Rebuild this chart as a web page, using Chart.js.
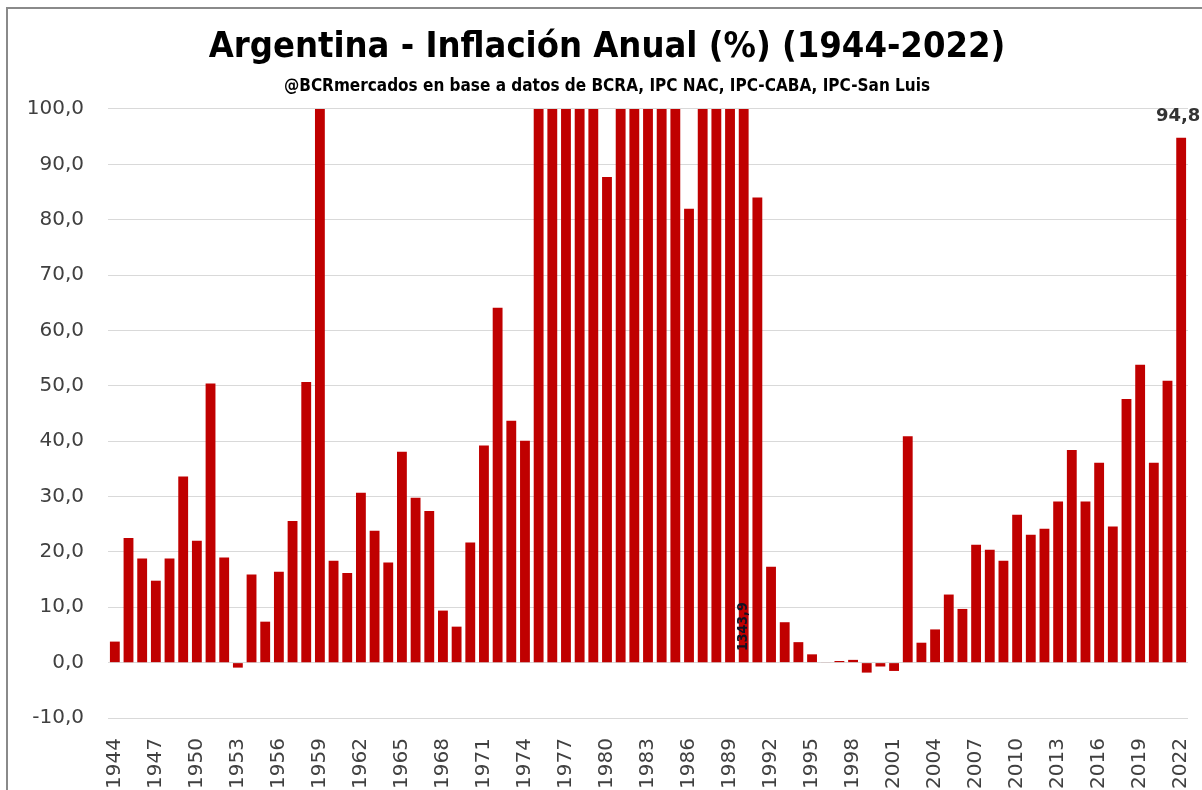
<!DOCTYPE html>
<html>
<head>
<meta charset="utf-8">
<script src="https://cdn.jsdelivr.net/npm/chart.js@4.4.0/dist/chart.umd.min.js"></script>
<style>
  html, body { margin: 0; padding: 0; background: #fff; overflow: hidden; }
  #wrap { position: relative; width: 1202px; height: 790px; overflow: hidden; }
  #frame {
    position: absolute; left: 6px; top: 7px; right: -10px; bottom: -10px;
    border-left: 2px solid #8a8a8a; border-top: 2px solid #8a8a8a;
    pointer-events: none;
  }
</style>
</head>
<body>
<div id="wrap">
  <canvas id="myChart" width="1202" height="790"></canvas>
  <div id="frame"></div>
</div>
<script>
// categories
const years = [
  "1944","1945","1946","1947","1948","1949","1950","1951","1952","1953",
  "1954","1955","1956","1957","1958","1959","1960","1961","1962","1963",
  "1964","1965","1966","1967","1968","1969","1970","1971","1972","1973",
  "1974","1975","1976","1977","1978","1979","1980","1981","1982","1983",
  "1984","1985","1986","1987","1988","1989","1990","1991","1992","1993",
  "1994","1995","1996","1997","1998","1999","2000","2001","2002","2003",
  "2004","2005","2006","2007","2008","2009","2010","2011","2012","2013",
  "2014","2015","2016","2017","2018","2019","2020","2021","2022"
];

// annual inflation (%), values above 100 are cut by the axis
const inflation = [
  3.8, 22.5, 18.8, 14.8, 18.8, 33.6, 22.0, 50.4, 19.0, -0.9,
  15.9, 7.4, 16.4, 25.6, 50.7, 113.7, 18.4, 16.2, 30.7, 23.8,
  18.1, 38.1, 29.8, 27.4, 9.4, 6.5, 21.7, 39.2, 64.1, 43.7,
  40.1, 335.0, 347.5, 160.4, 169.8, 139.7, 87.7, 131.3, 209.7, 433.7,
  688.0, 385.4, 82.0, 174.8, 387.7, 4923.6, 1343.9, 84.0, 17.3, 7.3,
  3.7, 1.5, 0.1, 0.3, 0.5, -1.8, -0.7, -1.5, 40.9, 3.6,
  6.0, 12.3, 9.7, 21.3, 20.4, 18.4, 26.7, 23.1, 24.2, 29.1,
  38.4, 29.1, 36.1, 24.6, 47.6, 53.8, 36.1, 50.9, 94.8
];

// y axis ticks
const yTicks = [-10, 0, 10, 20, 30, 40, 50, 60, 70, 80, 90, 100];

// bars that carry a value label
const topLabelYears = ["2022"];
const baseLabelYears = ["1990"];

const fmt = (v) => v.toFixed(1).replace(".", ",");

// draws the two value labels
const valueLabels = {
  id: "valueLabels",
  afterDatasetsDraw(chart) {
    const ctx = chart.ctx;
    const meta = chart.getDatasetMeta(0);
    const y = chart.scales.y;
    ctx.save();
    topLabelYears.forEach((yr) => {
      const i = years.indexOf(yr);
      const bar = meta.data[i];
      ctx.font = "bold 18px 'DejaVu Sans'";
      ctx.fillStyle = "#333333";
      ctx.textAlign = "center";
      ctx.textBaseline = "bottom";
      ctx.fillText(fmt(inflation[i]), bar.x - 3, bar.y - 12);
    });
    baseLabelYears.forEach((yr) => {
      const i = years.indexOf(yr);
      const bar = meta.data[i];
      ctx.translate(bar.x, y.getPixelForValue(0) - 36);
      ctx.rotate(-Math.PI / 2);
      ctx.font = "bold 14px 'DejaVu Sans Condensed', 'DejaVu Sans'";
      ctx.fillStyle = "#111122";
      ctx.textAlign = "center";
      ctx.textBaseline = "middle";
      ctx.fillText(fmt(inflation[i]), 0, 0);
      ctx.setTransform(1, 0, 0, 1, 0, 0);
    });
    ctx.restore();
  },
};

const ctx = document.getElementById("myChart").getContext("2d");
const myChart = new Chart(ctx, {
  type: "bar",
  data: {
    labels: years,
    datasets: [
      {
        data: inflation,
        backgroundColor: "#c00000",
        borderWidth: 0,
        barPercentage: 0.72,
        categoryPercentage: 1,
      },
    ],
  },
  options: {
    responsive: false,
    animation: false,
    layout: { padding: { left: 26, right: 14, top: 0, bottom: 0 } },
    plugins: {
      legend: { display: false },
      tooltip: { enabled: false },
      title: {
        display: true,
        text: "Argentina - Inflación Anual (%) (1944-2022)",
        color: "#000",
        font: { family: "'Liberation Sans Narrow', 'DejaVu Sans Condensed', sans-serif", size: 36, weight: "bold", lineHeight: 1.2 },
        padding: { top: 26, bottom: 0 },
      },
      subtitle: {
        display: true,
        text: "@BCRmercados en base a datos de BCRA, IPC NAC, IPC-CABA, IPC-San Luis",
        color: "#000",
        font: { family: "'Liberation Sans Narrow', 'DejaVu Sans Condensed', sans-serif", size: 17, weight: "bold", lineHeight: 1.2 },
        padding: { top: 7, bottom: 12.4 },
      },
    },
    scales: {
      x: {
        grid: { display: false, drawTicks: false },
        border: { display: false },
        ticks: {
          autoSkip: false,
          maxRotation: 90,
          minRotation: 90,
          padding: 20,
          color: "#404040",
          font: { family: "'DejaVu Sans'", size: 20 },
          callback: function (val, index) {
            return index % 3 === 0 ? years[index] : "";
          },
        },
        afterFit: (s) => { s.height = 72; s.paddingLeft = 0; s.paddingRight = 0; },
      },
      y: {
        min: yTicks[0],
        max: yTicks[yTicks.length - 1],
        afterBuildTicks: (s) => { s.ticks = yTicks.map((v) => ({ value: v })); },
        grid: { color: "#d9d9d9", lineWidth: 1, drawTicks: false },
        border: { display: false },
        ticks: {
          padding: 24,
          color: "#404040",
          font: { family: "'DejaVu Sans'", size: 20 },
          callback: (v) => fmt(v),
        },
        afterFit: (s) => { s.width = 82; s.paddingTop = 0; s.paddingBottom = 0; },
      },
    },
  },
  plugins: [valueLabels],
});
</script>
</body>
</html>
